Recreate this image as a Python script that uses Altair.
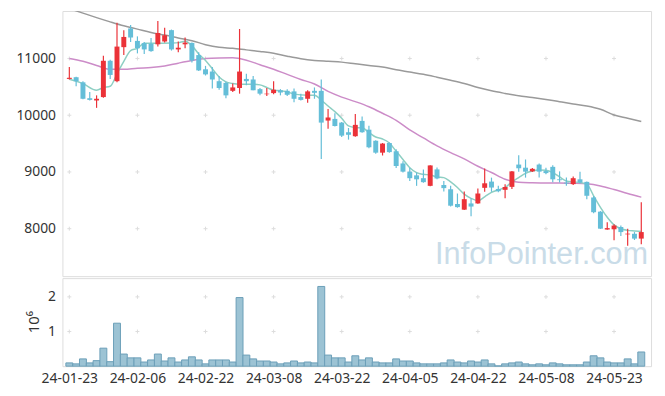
import altair as alt
import pandas as pd

# ---- data ----
dates = (
    ["2024-01-%02d" % d for d in [23, 24, 25, 26, 29, 30, 31]]
    + ["2024-02-%02d" % d for d in [1, 2, 5, 6, 7, 8, 13, 14, 15, 16, 19, 20, 21, 22, 23, 26, 27, 28, 29]]
    + ["2024-03-%02d" % d for d in [4, 5, 6, 7, 8, 11, 12, 13, 14, 15, 18, 19, 20, 21, 22, 25, 26, 27, 28, 29]]
    + ["2024-04-%02d" % d for d in [1, 2, 3, 4, 5, 8, 9, 11, 12, 15, 16, 17, 18, 19, 22, 23, 24, 25, 26, 29, 30]]
    + ["2024-05-%02d" % d for d in [2, 3, 7, 8, 9, 10, 13, 14, 16, 17, 20, 21, 22, 23, 24, 27, 28, 29]]
)

opens = [10640, 10670, 10580, 10300, 10260, 10320, 10960, 10600, 11200, 11530,
         11310, 11270, 11260, 11250, 11300, 11500, 11160, 11250, 11275, 11060,
         10810, 10770, 10600, 10570, 10430, 10480, 10640, 10630, 10460, 10370,
         10390, 10440, 10430, 10420, 10320, 10290, 10430, 10430, 9906, 9935,
         9870, 9700, 9630, 9900, 9745, 9550, 9340, 9510, 9365, 9150,
         9005, 8940, 8890, 8755, 9045, 8770, 8695, 8435, 8335, 8445,
         8445, 8720, 8830, 8700, 8685, 8737, 9130, 9075, 9010, 9130,
         9015, 9090, 8870, 8812, 8785, 8870, 8825, 8550, 8300, 7985,
         7990, 8030, 7900, 7910, 7825]
highs = [10850, 10680, 10600, 10410, 10350, 11050, 10980, 11630, 11500, 11590,
         11390, 11290, 11360, 11660, 11540, 11510, 11300, 11370, 11280, 11110,
         10870, 10850, 10690, 10590, 10560, 11520, 10730, 10690, 10480, 10480,
         10600, 10460, 10460, 10470, 10380, 10440, 10490, 10630, 10110, 10035,
         9880, 9775, 10020, 9976, 9815, 9560, 9510, 9520, 9400, 9190,
         9075, 8990, 9045, 9120, 9080, 8840, 8755, 8620, 8655, 8535,
         8710, 9060, 8900, 8755, 8785, 9015, 9295, 9220, 9070, 9150,
         9075, 9120, 9010, 8900, 8920, 9005, 8830, 8575, 8310, 8115,
         8080, 8055, 8000, 7940, 8465]
lows = [10630, 10510, 10280, 10260, 10130, 10310, 10640, 10580, 11060, 11290,
        11090, 11080, 11120, 11210, 11280, 11140, 11110, 11180, 10930, 10780,
        10700, 10470, 10450, 10300, 10410, 10380, 10530, 10440, 10350, 10340,
        10370, 10350, 10340, 10230, 10260, 10220, 10290, 9230, 9760, 9800,
        9615, 9570, 9620, 9690, 9420, 9320, 9290, 9340, 9070, 8990,
        8840, 8755, 8810, 8750, 8870, 8655, 8390, 8370, 8330, 8220,
        8440, 8650, 8650, 8640, 8535, 8700, 9005, 8900, 9000, 8900,
        8960, 8820, 8815, 8755, 8770, 8800, 8520, 8270, 7995, 7980,
        7795, 7870, 7700, 7800, 7725]
closes = [10660, 10600, 10290, 10270, 10290, 10960, 10710, 11210, 11380, 11370,
          11180, 11160, 11130, 11450, 11410, 11160, 11190, 11280, 10965, 10790,
          10720, 10630, 10480, 10350, 10490, 10770, 10600, 10440, 10380, 10380,
          10450, 10400, 10360, 10290, 10270, 10420, 10395, 9870, 9960, 9810,
          9640, 9655, 9830, 9700, 9435, 9340, 9500, 9350, 9105, 9005,
          8890, 8870, 8820, 9115, 8885, 8715, 8405, 8380, 8520, 8390,
          8620, 8800, 8725, 8660, 8735, 9010, 9065, 9005, 9055, 9005,
          8980, 8870, 8855, 8797, 8890, 8815, 8580, 8290, 8000, 8010,
          8055, 7940, 7912, 7825, 7940]
volumes = [95000, 67000, 210000, 95000, 160000, 520000, 130000, 1240000, 350000, 240000,
           240000, 120000, 180000, 350000, 150000, 240000, 120000, 180000, 270000, 180000,
           67000, 180000, 180000, 180000, 120000, 1980000, 320000, 210000, 150000, 150000,
           120000, 67000, 95000, 150000, 95000, 120000, 95000, 2300000, 320000, 240000,
           240000, 120000, 300000, 180000, 240000, 120000, 95000, 95000, 210000, 150000,
           150000, 95000, 67000, 67000, 67000, 95000, 180000, 120000, 95000, 150000,
           120000, 180000, 67000, 10000, 67000, 95000, 120000, 67000, 40000, 67000,
           40000, 95000, 67000, 40000, 40000, 40000, 120000, 300000, 240000, 120000,
           95000, 95000, 210000, 67000, 410000]

# moving averages, read at sample days (day index, value)
ma5_idx = [0, 2, 4, 5, 6, 7, 8, 9, 10, 11, 13, 15, 16, 17, 18, 19, 20, 21, 22, 23,
           24, 25, 27, 28, 29, 30, 31, 32, 33, 35, 36, 37, 38, 39, 40, 41, 42, 43, 44, 45,
           46, 47, 48, 49, 50, 51, 52, 53, 54, 55, 56, 57, 58, 59, 60, 61, 62, 63, 64, 65,
           66, 67, 68, 69, 70, 71, 72, 73, 74, 75, 76, 77, 78, 79, 80, 81, 82, 83, 84]
ma5_val = [10634, 10558, 10442, 10488, 10511, 10730, 10950, 11140, 11180, 11267, 11270, 11274, 11280, 11302, 11227, 11081, 10965, 10820, 10674, 10587,
           10558, 10546, 10546, 10535, 10488, 10442, 10430, 10413, 10372, 10354, 10354, 10267, 10162, 10063, 9947, 9813, 9784, 9778, 9697, 9616,
           9581, 9511, 9366, 9220, 9075, 8988, 8958, 8947, 8912, 8900, 8825, 8726, 8609, 8534, 8493, 8562, 8639, 8685, 8726, 8825,
           8901, 8976, 9017, 9034, 9028, 8988, 8912, 8842, 8825, 8813, 8784, 8580, 8377, 8202, 8068, 7999, 7970, 7960, 7952]
ma20_idx = list(range(0, 85, 2))
ma20_val = [11000, 10950, 10878, 10810, 10810, 10830, 10840, 10866, 10918, 10965,
            11000, 11010, 11012, 10970, 10890, 10810, 10720, 10630, 10550, 10420,
            10320, 10240, 10150, 10035, 9910, 9740, 9600, 9460, 9340, 9230,
            9100, 8990, 8871, 8820, 8810, 8805, 8805, 8800, 8790, 8754,
            8690, 8620, 8555]
ma120_idx = list(range(0, 85, 2))
ma120_val = [11880, 11800, 11721, 11646, 11576, 11518, 11460, 11413, 11361, 11314,
             11244, 11198, 11180, 11152, 11125, 11093, 11041, 10995, 10965, 10950,
             10936, 10907, 10878, 10849, 10802, 10762, 10721, 10670, 10616, 10558,
             10489, 10430, 10384, 10343, 10314, 10279, 10238, 10198, 10162, 10104,
             10005, 9948, 9890]

price_ticks = [8000, 9000, 10000, 11000]
volume_ticks = [1000000, 2000000]
date_tick_idx = list(range(0, 81, 10))
watermark = ["InfoPointer.com"]

# ---- tables ----
df = pd.DataFrame({"i": range(len(dates)), "date": dates, "open": opens, "high": highs,
                   "low": lows, "close": closes, "volume": volumes})
df["dir"] = ["up" if c >= o else "down" for o, c in zip(opens, closes)]
ma5 = pd.DataFrame({"i": ma5_idx, "v": ma5_val})
ma20 = pd.DataFrame({"i": ma20_idx, "v": ma20_val})
ma120 = pd.DataFrame({"i": ma120_idx, "v": ma120_val})
cross_top = pd.DataFrame([(x, y) for x in date_tick_idx for y in price_ticks], columns=["i", "v"])
cross_bot = pd.DataFrame([(x, y) for x in date_tick_idx for y in volume_ticks], columns=["i", "v"])

short_labels = [dates[k][2:] for k in date_tick_idx]
label_expr = "[" + ",".join("'%s'" % s for s in short_labels) + "][round(datum.value/10)]"

FONT = "Noto Sans"
RED = "#eb3238"
BLUE = "#64bed8"

xs = alt.Scale(domain=[-0.29, 84.71], nice=False, zero=False)
ys = alt.Scale(domain=[7163, 11837], nice=False, zero=False)
vs = alt.Scale(domain=[0, 2540000], nice=False, zero=True)

yaxis = alt.Axis(values=price_ticks, format="d", ticks=False, domain=False, grid=False, title=None,
                 labelFontSize=14, labelPadding=7, labelFont=FONT, labelColor="#333333",
                 minExtent=54, maxExtent=54)

X = lambda: alt.X("i:Q", scale=xs, axis=None)
color = alt.Color("dir:N", scale=alt.Scale(domain=["up", "down"], range=[RED, BLUE]), legend=None)

cross_mark = dict(shape="M-1,0L1,0M0,-1L0,1", filled=False, size=16, strokeWidth=1, color="#dddddd", opacity=1)

crosses = alt.Chart(cross_top).mark_point(**cross_mark).encode(
    x=X(), y=alt.Y("v:Q", scale=ys, axis=yaxis))

wm = alt.Chart(pd.DataFrame({"t": watermark})).mark_text(
    align="right", baseline="alphabetic", fontSize=31, font="Liberation Sans",
    color="#c9dce8").encode(text="t:N", x=alt.value(592), y=alt.value(256))

def ma_line(d, col):
    return alt.Chart(d).mark_line(color=col, strokeWidth=1.5, interpolate="monotone", clip=True).encode(
        x=X(), y=alt.Y("v:Q", scale=ys, axis=yaxis))

wick = alt.Chart(df).mark_rule(strokeWidth=1.2).encode(
    x=X(), y=alt.Y("low:Q", scale=ys, axis=yaxis), y2="high:Q", color=color)
body = alt.Chart(df).mark_bar(size=5).encode(
    x=X(), y=alt.Y("open:Q", scale=ys, axis=yaxis), y2="close:Q", color=color)

top = alt.layer(
    crosses, wm,
    ma_line(ma120, "#9a9a9a"), ma_line(ma20, "#cc8cc8"), ma_line(ma5, "#8dcfc3"),
    wick, body,
).properties(width=595, height=268)

vaxis = alt.Axis(values=volume_ticks, labelExpr="datum.value/1000000", ticks=False, domain=False,
                 grid=False, title="10⁶", titleFontSize=15, titleFontWeight="normal",
                 titleFont=FONT, titleColor="#333333", titleX=-21, titleY=44,
                 titleAngle=270, titleAlign="center", titleBaseline="bottom",
                 labelFontSize=14, labelPadding=7, labelFont=FONT, labelColor="#333333",
                 minExtent=54, maxExtent=54)
xaxis = alt.Axis(values=date_tick_idx, labelExpr=label_expr, ticks=False, domain=False, grid=False,
                 title=None, labelFontSize=14, labelPadding=5, labelFont=FONT, labelColor="#333333")

vcross = alt.Chart(cross_bot).mark_point(**cross_mark).encode(
    x=alt.X("i:Q", scale=xs, axis=xaxis), y=alt.Y("v:Q", scale=vs, axis=vaxis))
vbars = alt.Chart(df).mark_bar(size=7, color="#9cc3d4", stroke="#6b9fb8", strokeWidth=1).encode(
    x=alt.X("i:Q", scale=xs, axis=xaxis), y=alt.Y("volume:Q", scale=vs, axis=vaxis))

bottom = alt.layer(vcross, vbars).properties(width=595, height=89)

chart = alt.vconcat(top, bottom, spacing=0).properties(
    padding={"left": 0, "top": 0, "right": 5, "bottom": 0}
).configure_view(stroke="#e6e6e6").configure(background="white")

chart.save("out.html", embed_options={"renderer": "svg", "actions": False})
